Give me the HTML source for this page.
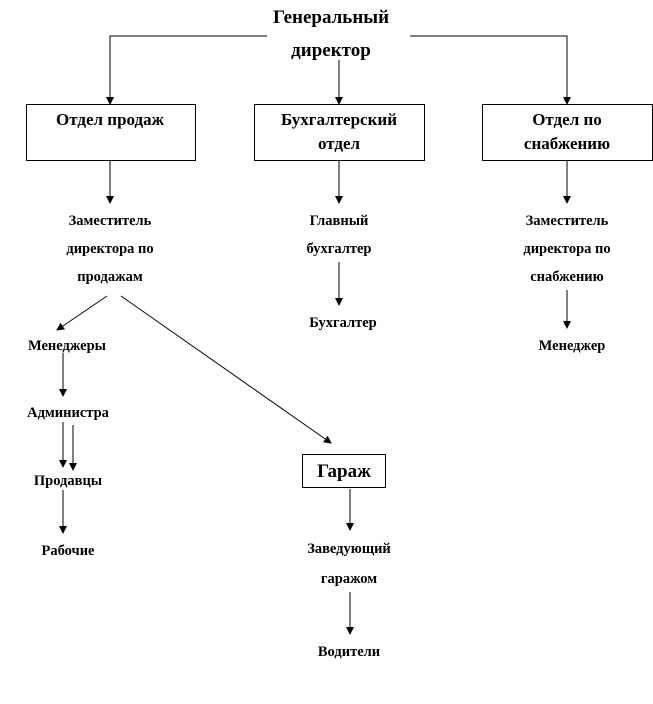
<!DOCTYPE html>
<html><head><meta charset="utf-8"><style>body{margin:0;background:#fff}svg{display:block}
text{font-family:"Liberation Serif",serif;fill:#000;text-anchor:middle;font-weight:bold}
.b{font-size:14.5px}.t{font-size:19px}.r{font-size:17px}</style></head><body>
<svg width="653" height="704" viewBox="0 0 653 704">
<defs><marker id="a" markerWidth="8" markerHeight="8" refX="7" refY="4" orient="auto" markerUnits="userSpaceOnUse"><path d="M0,0 L8,4 L0,8 z" fill="#000"/></marker></defs>
<g stroke="#000" stroke-width="1" fill="none">
<polyline points="267,36 110,36 110,104" marker-end="url(#a)"/>
<polyline points="410,36 567,36 567,104" marker-end="url(#a)"/>
<line x1="339" y1="60" x2="339" y2="104" marker-end="url(#a)"/>
<rect x="26.5" y="104.5" width="169" height="56"/>
<rect x="254.5" y="104.5" width="170" height="56"/>
<rect x="482.5" y="104.5" width="170" height="56"/>
<line x1="110" y1="160" x2="110" y2="203" marker-end="url(#a)"/>
<line x1="339" y1="160" x2="339" y2="203" marker-end="url(#a)"/>
<line x1="567" y1="160" x2="567" y2="203" marker-end="url(#a)"/>
<line x1="339" y1="262" x2="339" y2="305" marker-end="url(#a)"/>
<line x1="567" y1="290" x2="567" y2="328" marker-end="url(#a)"/>
<line x1="107" y1="296" x2="57" y2="330" marker-end="url(#a)"/>
<line x1="121" y1="296" x2="331" y2="443" marker-end="url(#a)"/>
<line x1="63" y1="353" x2="63" y2="396" marker-end="url(#a)"/>
<line x1="63" y1="422" x2="63" y2="467" marker-end="url(#a)"/>
<line x1="73" y1="425" x2="73" y2="470" marker-end="url(#a)"/>
<line x1="63" y1="490" x2="63" y2="533" marker-end="url(#a)"/>
<rect x="302.5" y="454.5" width="83" height="33"/>
<line x1="350" y1="489" x2="350" y2="530" marker-end="url(#a)"/>
<line x1="350" y1="592" x2="350" y2="634" marker-end="url(#a)"/>
</g>
<text class="t" x="331" y="23">Генеральный</text>
<text class="t" x="331" y="56">директор</text>
<text class="r" x="110" y="125">Отдел продаж</text>
<text class="r" x="339" y="125">Бухгалтерский</text>
<text class="r" x="339" y="149">отдел</text>
<text class="r" x="567" y="125">Отдел по</text>
<text class="r" x="567" y="149">снабжению</text>
<text class="b" x="110" y="225">Заместитель</text>
<text class="b" x="110" y="253">директора по</text>
<text class="b" x="110" y="281">продажам</text>
<text class="b" x="339" y="225">Главный</text>
<text class="b" x="339" y="253">бухгалтер</text>
<text class="b" x="343" y="327">Бухгалтер</text>
<text class="b" x="567" y="225">Заместитель</text>
<text class="b" x="567" y="253">директора по</text>
<text class="b" x="567" y="281">снабжению</text>
<text class="b" x="572" y="350">Менеджер</text>
<text class="b" x="67" y="350">Менеджеры</text>
<text class="b" x="68" y="417">Администра</text>
<text class="b" x="68" y="485">Продавцы</text>
<text class="b" x="68" y="555">Рабочие</text>
<text class="t" x="344" y="477">Гараж</text>
<text class="b" x="349" y="553">Заведующий</text>
<text class="b" x="349" y="583">гаражом</text>
<text class="b" x="349" y="656">Водители</text>
</svg></body></html>
